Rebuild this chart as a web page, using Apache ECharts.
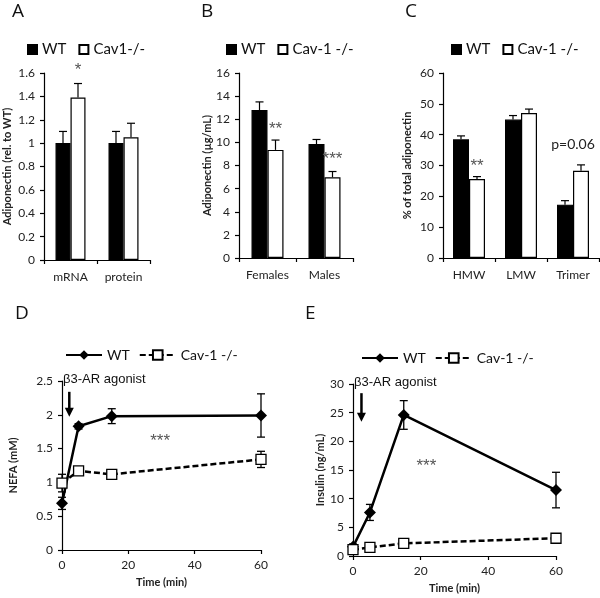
<!DOCTYPE html>
<html>
<head>
<meta charset="utf-8">
<script src="https://cdn.jsdelivr.net/npm/echarts@6/dist/echarts.min.js"></script>
<style>html,body{margin:0;padding:0;background:#fff}#c{width:600px;height:598px}</style>
</head>
<body>
<div id="c"></div>
<script>
// ---- Panel A ----
const aCats = ['mRNA', 'protein'];
const aWT = [1.0, 1.0];
const aWTErr = [0.1, 0.1];
const aKO = [1.39, 1.05];
const aKOErr = [0.12, 0.12];
const aNotes = [[0, 1.62, '*', 'KO']];
// ---- Panel B ----
const bCats = ['Females', 'Males'];
const bWT = [12.8, 9.85];
const bWTErr = [0.7, 0.4];
const bKO = [9.35, 6.98];
const bKOErr = [0.85, 0.5];
const bNotes = [[0, 11.1, '**', 'KO'], [1, 8.5, '***', 'KO']];
// ---- Panel C ----
const cCats = ['HMW', 'LMW', 'Trimer'];
const cWT = [38.5, 44.9, 17.3];
const cWTErr = [1.1, 1.3, 1.3];
const cKO = [25.6, 47.0, 28.3];
const cKOErr = [0.8, 1.3, 1.9];
const cNotes = [[0, 29.8, '**', 'KO'], [2, 36.8, 'p=0.06', 'mid']];
// ---- Panel D ----
const dTime = [0, 5, 15, 60];
const dWT = [0.69, 1.83, 1.98, 1.99];
const dWTErr = [0.09, 0.04, 0.11, 0.32];
const dKO = [0.99, 1.17, 1.12, 1.34];
const dKOErr = [0.13, 0.06, 0.04, 0.12];
const dNotes = [[29.6, 1.61, '***']];
const dArrow = [[2.2, 2.34, 1.97]];
const dAgonist = [[0.3, 2.53, 'β3-AR agonist']];
// ---- Panel E ----
const eTime = [0, 5, 15, 60];
const eWT = [1.6, 7.6, 24.6, 11.5];
const eWTErr = [0.5, 1.4, 2.5, 3.1];
const eKO = [1.1, 1.5, 2.2, 3.1];
const eKOErr = [0.3, 0.3, 0.3, 0.3];
const eNotes = [[21.7, 15.6, '***']];
const eArrow = [[2.5, 28.4, 23.4]];
const eAgonist = [[0.3, 30.2, 'β3-AR agonist']];

const names = {
  aWT: 'WT', aKO: 'Cav1-/-', bWT: 'WT', bKO: 'Cav-1 -/-', cWT: 'WT', cKO: 'Cav-1 -/-',
  dWT: 'WT', dKO: 'Cav-1 -/-', eWT: 'WT', eKO: 'Cav-1 -/-'
};
const FONT = 'Lato';
const BW = [15, 16, 16];

const chart = echarts.init(document.getElementById('c'), null, {renderer: 'canvas'});

function catAxis(i, cats) {
  return {
    type: 'category', gridIndex: i, data: cats,
    axisLine: {lineStyle: {color: '#000', width: 1.2}},
    axisTick: {show: true, length: 4, lineStyle: {color: '#000', width: 1.2}},
    axisLabel: {color: '#222', fontSize: 12, fontFamily: FONT, margin: 11}
  };
}
function valAxis(i, min, max, interval, name, gap) {
  return {
    type: 'value', gridIndex: i, min: min, max: max, interval: interval,
    name: name, nameLocation: 'middle', nameGap: gap, nameMoveOverlap: false,
    nameTextStyle: {color: '#222', fontSize: 11, fontWeight: 'bold', fontFamily: FONT},
    axisLine: {show: true, lineStyle: {color: '#000', width: 1.2}},
    axisTick: {show: true, length: 4, lineStyle: {color: '#000', width: 1.2}},
    axisLabel: {color: '#222', fontSize: 12, fontFamily: FONT, margin: 9},
    splitLine: {show: false}
  };
}
function barErr(side, bw) {
  return function (params, api) {
    const c = api.coord([api.value(0), api.value(1)]);
    const t = api.coord([api.value(0), api.value(1) + api.value(2)]);
    const x = c[0] + side * bw / 2;
    const st = {stroke: '#000', lineWidth: 1.2};
    return {type: 'group', children: [
      {type: 'line', shape: {x1: x, y1: c[1], x2: x, y2: t[1]}, style: st},
      {type: 'line', shape: {x1: x - 4, y1: t[1], x2: x + 4, y2: t[1]}, style: st}
    ]};
  };
}
function lineErr(params, api) {
  const lo = api.coord([api.value(0), api.value(1) - api.value(2)]);
  const hi = api.coord([api.value(0), api.value(1) + api.value(2)]);
  const st = {stroke: '#000', lineWidth: 1.3};
  return {type: 'group', children: [
    {type: 'line', shape: {x1: lo[0], y1: lo[1], x2: hi[0], y2: hi[1]}, style: st},
    {type: 'line', shape: {x1: lo[0] - 4, y1: lo[1], x2: lo[0] + 4, y2: lo[1]}, style: st},
    {type: 'line', shape: {x1: hi[0] - 4, y1: hi[1], x2: hi[0] + 4, y2: hi[1]}, style: st}
  ]};
}
function noteFont(txt) {
  return /^\*+$/.test(txt) ? '17px "Liberation Sans"' : '14px ' + FONT;
}
const noteText = {}, noteSide = {};
function regNotes(key, arr) {
  noteText[key] = arr.map(r => r[2]);
  noteSide[key] = arr.map(r => r[3]);
  return arr.map(r => [r[0], r[1]]);
}
function noteLine(key, arr) {
  noteText[key] = arr.map(r => r[2]);
  return arr.map(r => [r[0], r[1]]);
}
function noteBar(bw) {
  return function (params, api) {
    const c = api.coord([api.value(0), api.value(1)]);
    const side = noteSide[params.seriesName][params.dataIndex];
    const txt = noteText[params.seriesName][params.dataIndex];
    return {type: 'text', x: c[0] + (side === 'KO' ? bw / 2 : 0), y: c[1],
      style: {text: txt, fill: /^\*+$/.test(txt) ? '#555' : '#222',
        font: noteFont(txt), align: 'center', verticalAlign: 'middle'}};
  };
}
function noteLineRender(params, api) {
  const c = api.coord([api.value(0), api.value(1)]);
  const txt = noteText[params.seriesName][params.dataIndex];
  return {type: 'text', x: c[0], y: c[1],
    style: {text: txt, fill: '#555', font: noteFont(txt), align: 'center', verticalAlign: 'middle'}};
}
function agonistRender(params, api) {
  const c = api.coord([api.value(0), api.value(1)]);
  return {type: 'text', x: c[0], y: c[1],
    style: {text: noteText[params.seriesName][params.dataIndex], fill: '#111',
      font: '13px "Liberation Sans"', align: 'left', verticalAlign: 'middle'}};
}
function arrowRender(params, api) {
  const a = api.coord([api.value(0), api.value(1)]);
  const b = api.coord([api.value(0), api.value(2)]);
  return {type: 'group', children: [
    {type: 'line', shape: {x1: a[0], y1: a[1], x2: b[0], y2: b[1] - 7}, style: {stroke: '#000', lineWidth: 2.5}},
    {type: 'polygon', shape: {points: [[b[0] - 4.5, b[1] - 9], [b[0] + 4.5, b[1] - 9], [b[0], b[1]]]}, style: {fill: '#000'}}
  ]};
}

function barPanel(i, wKey, kKey, wv, we, kv, ke, notes) {
  const bw = BW[i];
  const base = {xAxisIndex: i, yAxisIndex: i};
  return [
    Object.assign({type: 'bar', name: wKey, data: wv, barWidth: bw, barGap: '0%',
      itemStyle: {color: '#000', borderColor: '#000', borderWidth: 1.2}}, base),
    Object.assign({type: 'bar', name: kKey, data: kv, barWidth: bw, barGap: '0%',
      itemStyle: {color: '#fff', borderColor: '#000', borderWidth: 1.2}}, base),
    Object.assign({type: 'custom', name: wKey + 'err', renderItem: barErr(-1, bw),
      data: wv.map((v, j) => [j, v, we[j]]), z: 3}, base),
    Object.assign({type: 'custom', name: kKey + 'err', renderItem: barErr(1, bw),
      data: kv.map((v, j) => [j, v, ke[j]]), z: 3}, base),
    Object.assign({type: 'custom', name: wKey + 'note', renderItem: noteBar(bw),
      data: regNotes(wKey + 'note', notes), z: 4}, base)
  ];
}
function linePanel(i, wKey, kKey, t, wv, we, kv, ke, notes, arrow, agon) {
  const base = {xAxisIndex: i, yAxisIndex: i};
  return [
    Object.assign({type: 'custom', name: wKey + 'err', renderItem: lineErr,
      data: t.map((x, j) => [x, wv[j], we[j]]), z: 1}, base),
    Object.assign({type: 'custom', name: kKey + 'err', renderItem: lineErr,
      data: t.map((x, j) => [x, kv[j], ke[j]]), z: 1}, base),
    Object.assign({type: 'line', name: wKey, data: t.map((x, j) => [x, wv[j]]), clip: false,
      symbol: 'diamond', symbolSize: 12, z: 2,
      lineStyle: {color: '#000', width: 2.5}, itemStyle: {color: '#000'}}, base),
    Object.assign({type: 'line', name: kKey, data: t.map((x, j) => [x, kv[j]]), clip: false,
      symbol: 'rect', symbolSize: 10, z: 3, showAllSymbol: true,
      lineStyle: {color: '#000', width: 2.5, type: [6, 3]},
      itemStyle: {color: '#fff', borderColor: '#000', borderWidth: 1.3}}, base),
    Object.assign({type: 'custom', name: wKey + 'note', renderItem: noteLineRender,
      data: noteLine(wKey + 'note', notes), z: 4}, base),
    Object.assign({type: 'custom', name: wKey + 'arrow', renderItem: arrowRender,
      data: arrow, z: 4}, base),
    Object.assign({type: 'custom', name: wKey + 'ago', renderItem: agonistRender,
      data: noteLine(wKey + 'ago', agon), z: 4}, base)
  ];
}
function timeAxis(i, gap) {
  return {
    type: 'value', gridIndex: i, min: 0, max: 60, interval: 20,
    name: 'Time (min)', nameLocation: 'middle', nameGap: gap, nameMoveOverlap: false,
    nameTextStyle: {color: '#222', fontSize: 11, fontWeight: 'bold', fontFamily: FONT},
    axisLine: {lineStyle: {color: '#000', width: 1.2}},
    axisTick: {show: true, length: 4, lineStyle: {color: '#000', width: 1.2}},
    axisLabel: {color: '#222', fontSize: 12, fontFamily: FONT, margin: 9},
    splitLine: {show: false}
  };
}
function legend(left, top, data, iw, ih, fs, gap) {
  return {
    left: left, top: top, data: data, itemWidth: iw, itemHeight: ih, itemGap: gap,
    icon: iw === ih ? 'rect' : undefined, selectedMode: false,
    formatter: n => names[n],
    textStyle: {color: '#111', fontSize: fs, fontFamily: FONT}
  };
}

const option = {
  animation: false,
  backgroundColor: '#fff',
  grid: [
    {left: 44, top: 73, width: 106, height: 187},
    {left: 239, top: 73, width: 114, height: 185},
    {left: 443, top: 73, width: 156, height: 185},
    {left: 62, top: 381, width: 199, height: 169},
    {left: 353, top: 384, width: 203, height: 172}
  ],
  xAxis: [catAxis(0, aCats), catAxis(1, bCats), catAxis(2, cCats), timeAxis(3, 27), timeAxis(4, 27)],
  yAxis: [
    valAxis(0, 0, 1.6, 0.2, 'Adiponectin (rel. to WT)', 31),
    valAxis(1, 0, 16, 2, 'Adiponectin (µg/mL)', 26),
    valAxis(2, 0, 60, 10, '% of total adiponectin', 30),
    valAxis(3, 0, 2.5, 0.5, 'NEFA (mM)', 43),
    valAxis(4, 0, 30, 5, 'Insulin (ng/mL)', 27)
  ],
  legend: [
    legend(22, 37, ['aWT', 'aKO'], 9, 9, 15, 12),
    legend(221, 37, ['bWT', 'bKO'], 9, 9, 15, 12),
    legend(446, 37, ['cWT', 'cKO'], 9, 9, 15, 12),
    legend(60, 343, ['dWT', 'dKO'], 36, 12, 14, 9),
    legend(356, 346, ['eWT', 'eKO'], 36, 12, 14, 9)
  ],
  graphic: [
    {type: 'text', left: 12, top: 2, style: {text: 'A', font: '19px "Open Sans"', fill: '#111'}},
    {type: 'text', left: 201, top: 2, style: {text: 'B', font: '19px "Open Sans"', fill: '#111'}},
    {type: 'text', left: 405, top: 2, style: {text: 'C', font: '19px "Open Sans"', fill: '#111'}},
    {type: 'text', left: 15, top: 304, style: {text: 'D', font: '19px "Open Sans"', fill: '#111'}},
    {type: 'text', left: 305, top: 304, style: {text: 'E', font: '19px "Open Sans"', fill: '#111'}}
  ],
  series: [].concat(
    barPanel(0, 'aWT', 'aKO', aWT, aWTErr, aKO, aKOErr, aNotes),
    barPanel(1, 'bWT', 'bKO', bWT, bWTErr, bKO, bKOErr, bNotes),
    barPanel(2, 'cWT', 'cKO', cWT, cWTErr, cKO, cKOErr, cNotes),
    linePanel(3, 'dWT', 'dKO', dTime, dWT, dWTErr, dKO, dKOErr, dNotes, dArrow, dAgonist),
    linePanel(4, 'eWT', 'eKO', eTime, eWT, eWTErr, eKO, eKOErr, eNotes, eArrow, eAgonist)
  )
};
chart.setOption(option);
</script>
</body>
</html>
